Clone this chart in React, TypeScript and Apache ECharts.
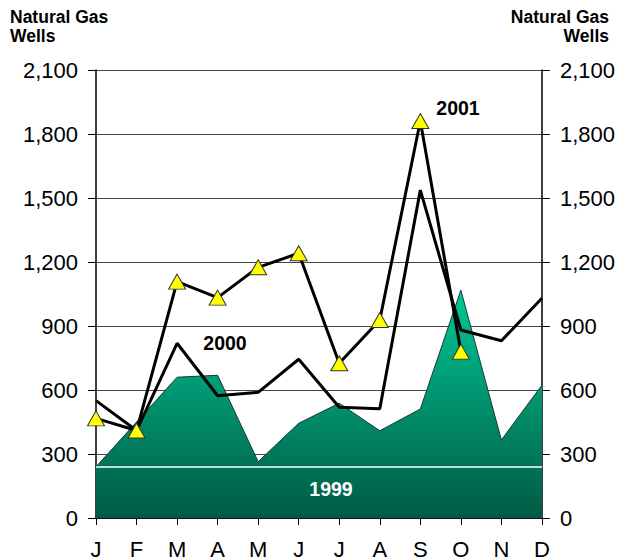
import React, { useEffect, useRef } from "react";
import * as echarts from "echarts";

const months = ["J", "F", "M", "A", "M", "J", "J", "A", "S", "O", "N", "D"];
const wells1999 = [240, 450, 660, 669, 264, 444, 538, 409, 511, 1068, 366, 623];
const wells2000 = [550, 410, 819, 573, 589, 744, 519, 512, 1537, 881, 831, 1030];
const wells2001: (number | null)[] = [467, 410, 1108, 1033, 1175, 1241, 725, 928, 1861, 780, null, null];
const yMin = 0;
const yMax = 2100;
const yStep = 300;
const baseLineValue = 240;
const seriesNames = ["1999", "2000", "2001"];
const axisTitleLines = ["Natural Gas", "Wells"];

const FONT = "'Liberation Sans', Arial, Helvetica, sans-serif";

export default function App() {
  const ref = useRef<HTMLDivElement>(null);
  useEffect(() => {
    if (!ref.current) return;
    const chart = echarts.init(ref.current, null, { renderer: "svg" });
    const fmt = (v: number) => v.toLocaleString("en-US");
    const yAxisBase = (pos: "left" | "right") => ({
      type: "value",
      position: pos,
      min: yMin,
      max: yMax,
      interval: yStep,
      axisLine: { show: true, lineStyle: { color: "#000", width: 1.5 } },
      axisTick: { show: true, inside: false, length: 8, lineStyle: { color: "#000", width: 1 } },
      axisLabel: {
        formatter: fmt,
        fontFamily: FONT,
        fontSize: 22,
        color: "#000",
        margin: 18,
      },
      splitLine: { show: pos === "left", lineStyle: { color: "#444", width: 1 } },
    });
    const titleFont = `bold 17.5px ${FONT}`;
    chart.setOption({
      animation: false,
      grid: { left: 96, right: 76, top: 70, bottom: 42, containLabel: false },
      xAxis: {
        type: "category",
        data: months,
        boundaryGap: false,
        axisLine: { lineStyle: { color: "#000", width: 1.5 } },
        axisTick: { show: true, length: 7, lineStyle: { color: "#000", width: 1 } },
        axisLabel: { fontFamily: FONT, fontSize: 22, color: "#000", margin: 20, interval: 0 },
        splitLine: { show: false },
      },
      yAxis: [yAxisBase("left"), yAxisBase("right")],
      series: [
        {
          name: seriesNames[0],
          type: "line",
          data: wells1999,
          symbol: "none",
          lineStyle: { color: "#1a3a30", width: 1 },
          areaStyle: {
            opacity: 1,
            color: new echarts.graphic.LinearGradient(0, 0, 0, 1, [
              { offset: 0, color: "#00c896" },
              { offset: 1, color: "#005a44" },
            ]),
          },
          markLine: {
            silent: true,
            symbol: "none",
            label: { show: false },
            lineStyle: { color: "#ffffff", width: 1.5, type: "solid" },
            data: [{ yAxis: baseLineValue }],
          },
          z: 2,
        },
        {
          name: seriesNames[1],
          type: "line",
          data: wells2000,
          symbol: "none",
          lineStyle: { color: "#000", width: 3 },
          z: 3,
        },
        {
          name: seriesNames[2],
          type: "line",
          data: wells2001,
          symbol: "triangle",
          symbolSize: [17, 15],
          showAllSymbol: true,
          itemStyle: { color: "#ffff00", borderColor: "#333", borderWidth: 1 },
          lineStyle: { color: "#000", width: 3 },
          z: 4,
        },
      ],
      graphic: [
        {
          type: "text",
          x: 10,
          y: 17,
          style: { text: axisTitleLines[0], font: titleFont, fill: "#000", align: "left", verticalAlign: "middle" },
        },
        {
          type: "text",
          x: 10,
          y: 36,
          style: { text: axisTitleLines[1], font: titleFont, fill: "#000", align: "left", verticalAlign: "middle" },
        },
        {
          type: "text",
          x: 609,
          y: 17,
          style: { text: axisTitleLines[0], font: titleFont, fill: "#000", align: "right", verticalAlign: "middle" },
        },
        {
          type: "text",
          x: 609,
          y: 36,
          style: { text: axisTitleLines[1], font: titleFont, fill: "#000", align: "right", verticalAlign: "middle" },
        },
        {
          type: "text",
          x: 458,
          y: 108,
          style: { text: seriesNames[2], font: `bold 19.5px ${FONT}`, fill: "#000", align: "center", verticalAlign: "middle" },
          z: 10,
        },
        {
          type: "text",
          x: 225,
          y: 343,
          style: { text: seriesNames[1], font: `bold 19.5px ${FONT}`, fill: "#000", align: "center", verticalAlign: "middle" },
          z: 10,
        },
        {
          type: "text",
          x: 331,
          y: 489,
          style: { text: seriesNames[0], font: `bold 19.5px ${FONT}`, fill: "#fff", align: "center", verticalAlign: "middle" },
          z: 10,
        },
      ],
    });
    return () => chart.dispose();
  }, []);
  return <div ref={ref} style={{ position: "fixed", left: 0, top: 0, width: 618, height: 560, background: "#fff" }} />;
}
